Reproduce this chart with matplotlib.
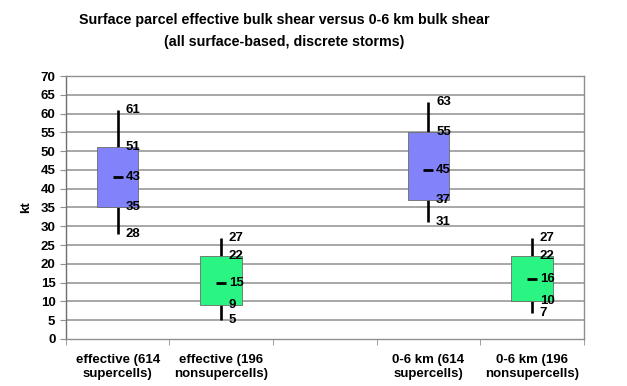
import matplotlib
matplotlib.use("Agg")
import matplotlib.pyplot as plt
import numpy as np

# box stats (third slot is an empty spacer)
categories = [
    "effective (614\nsupercells)",
    "effective (196\nnonsupercells)",
    "",
    "0-6 km (614\nsupercells)",
    "0-6 km (196\nnonsupercells)",
]
positions = [0, 1, 3, 4]
lows = [28, 5, 31, 7]
q1s = [35, 9, 37, 10]
mids = [43, 15, 45, 16]
q3s = [51, 22, 55, 22]
highs = [61, 27, 63, 27]
box_colors = ["#8282fb", "#2bf582", "#8282fb", "#2bf582"]

plt.rcParams["font.family"] = ["Liberation Sans", "DejaVu Sans"]
plt.rcParams["font.weight"] = "bold"

fig = plt.figure(figsize=(6.27, 3.86), dpi=100)
ax = fig.add_axes([0.105, 0.122, 0.826, 0.681])

grid_color = "#8f8f8f"
for y in range(5, 75, 5):
    ax.axhline(y, color=grid_color, lw=1.1, zorder=1)

ax.vlines(positions, lows, highs, color="black", lw=1.9, zorder=2)
ax.bar(positions, np.array(q3s) - np.array(q1s), bottom=q1s, width=0.4,
       color=box_colors, edgecolor="#6a6a6a", linewidth=0.6, zorder=3)
ax.plot(positions, mids, ls="none", marker="_", ms=7.5, mew=2,
        color="black", zorder=4)

for x, lo, a, m, b, hi in zip(positions, lows, q1s, mids, q3s, highs):
    for v in (lo, a, m, b, hi):
        ax.text(x + 0.075, v, str(v), ha="left", va="center",
                fontsize=9.5, fontweight="bold", zorder=5)

ax.set_xlim(-0.5, 4.5)
ax.set_ylim(0, 70)
ax.set_yticks(range(0, 75, 5))
ax.set_xticks(range(len(categories)))
ax.set_xticklabels(categories, fontsize=9.5, fontweight="bold")
ax.set_xticks(np.arange(-0.5, 5.0, 1.0), minor=True)
ax.tick_params(axis="x", which="major", length=0, pad=11)
ax.tick_params(axis="x", which="minor", length=4, color=grid_color)
ax.tick_params(axis="y", length=4, color=grid_color, labelsize=9.5)
for lab in ax.get_yticklabels():
    lab.set_fontweight("bold")

for side in ("top", "right", "bottom", "left"):
    ax.spines[side].set_color(grid_color)
    ax.spines[side].set_linewidth(1.0)
ax.spines["left"].set_color("#6f6f6f")

ax.set_ylabel("kt", fontsize=9.5, fontweight="bold", labelpad=6)

fig.text(0.453, 0.948, "Surface parcel effective bulk shear versus 0-6 km bulk shear",
         ha="center", va="center", fontsize=10.3, fontweight="bold")
fig.text(0.453, 0.890, "(all surface-based, discrete storms)",
         ha="center", va="center", fontsize=10.3, fontweight="bold")

fig.savefig("out.png", dpi=100)
